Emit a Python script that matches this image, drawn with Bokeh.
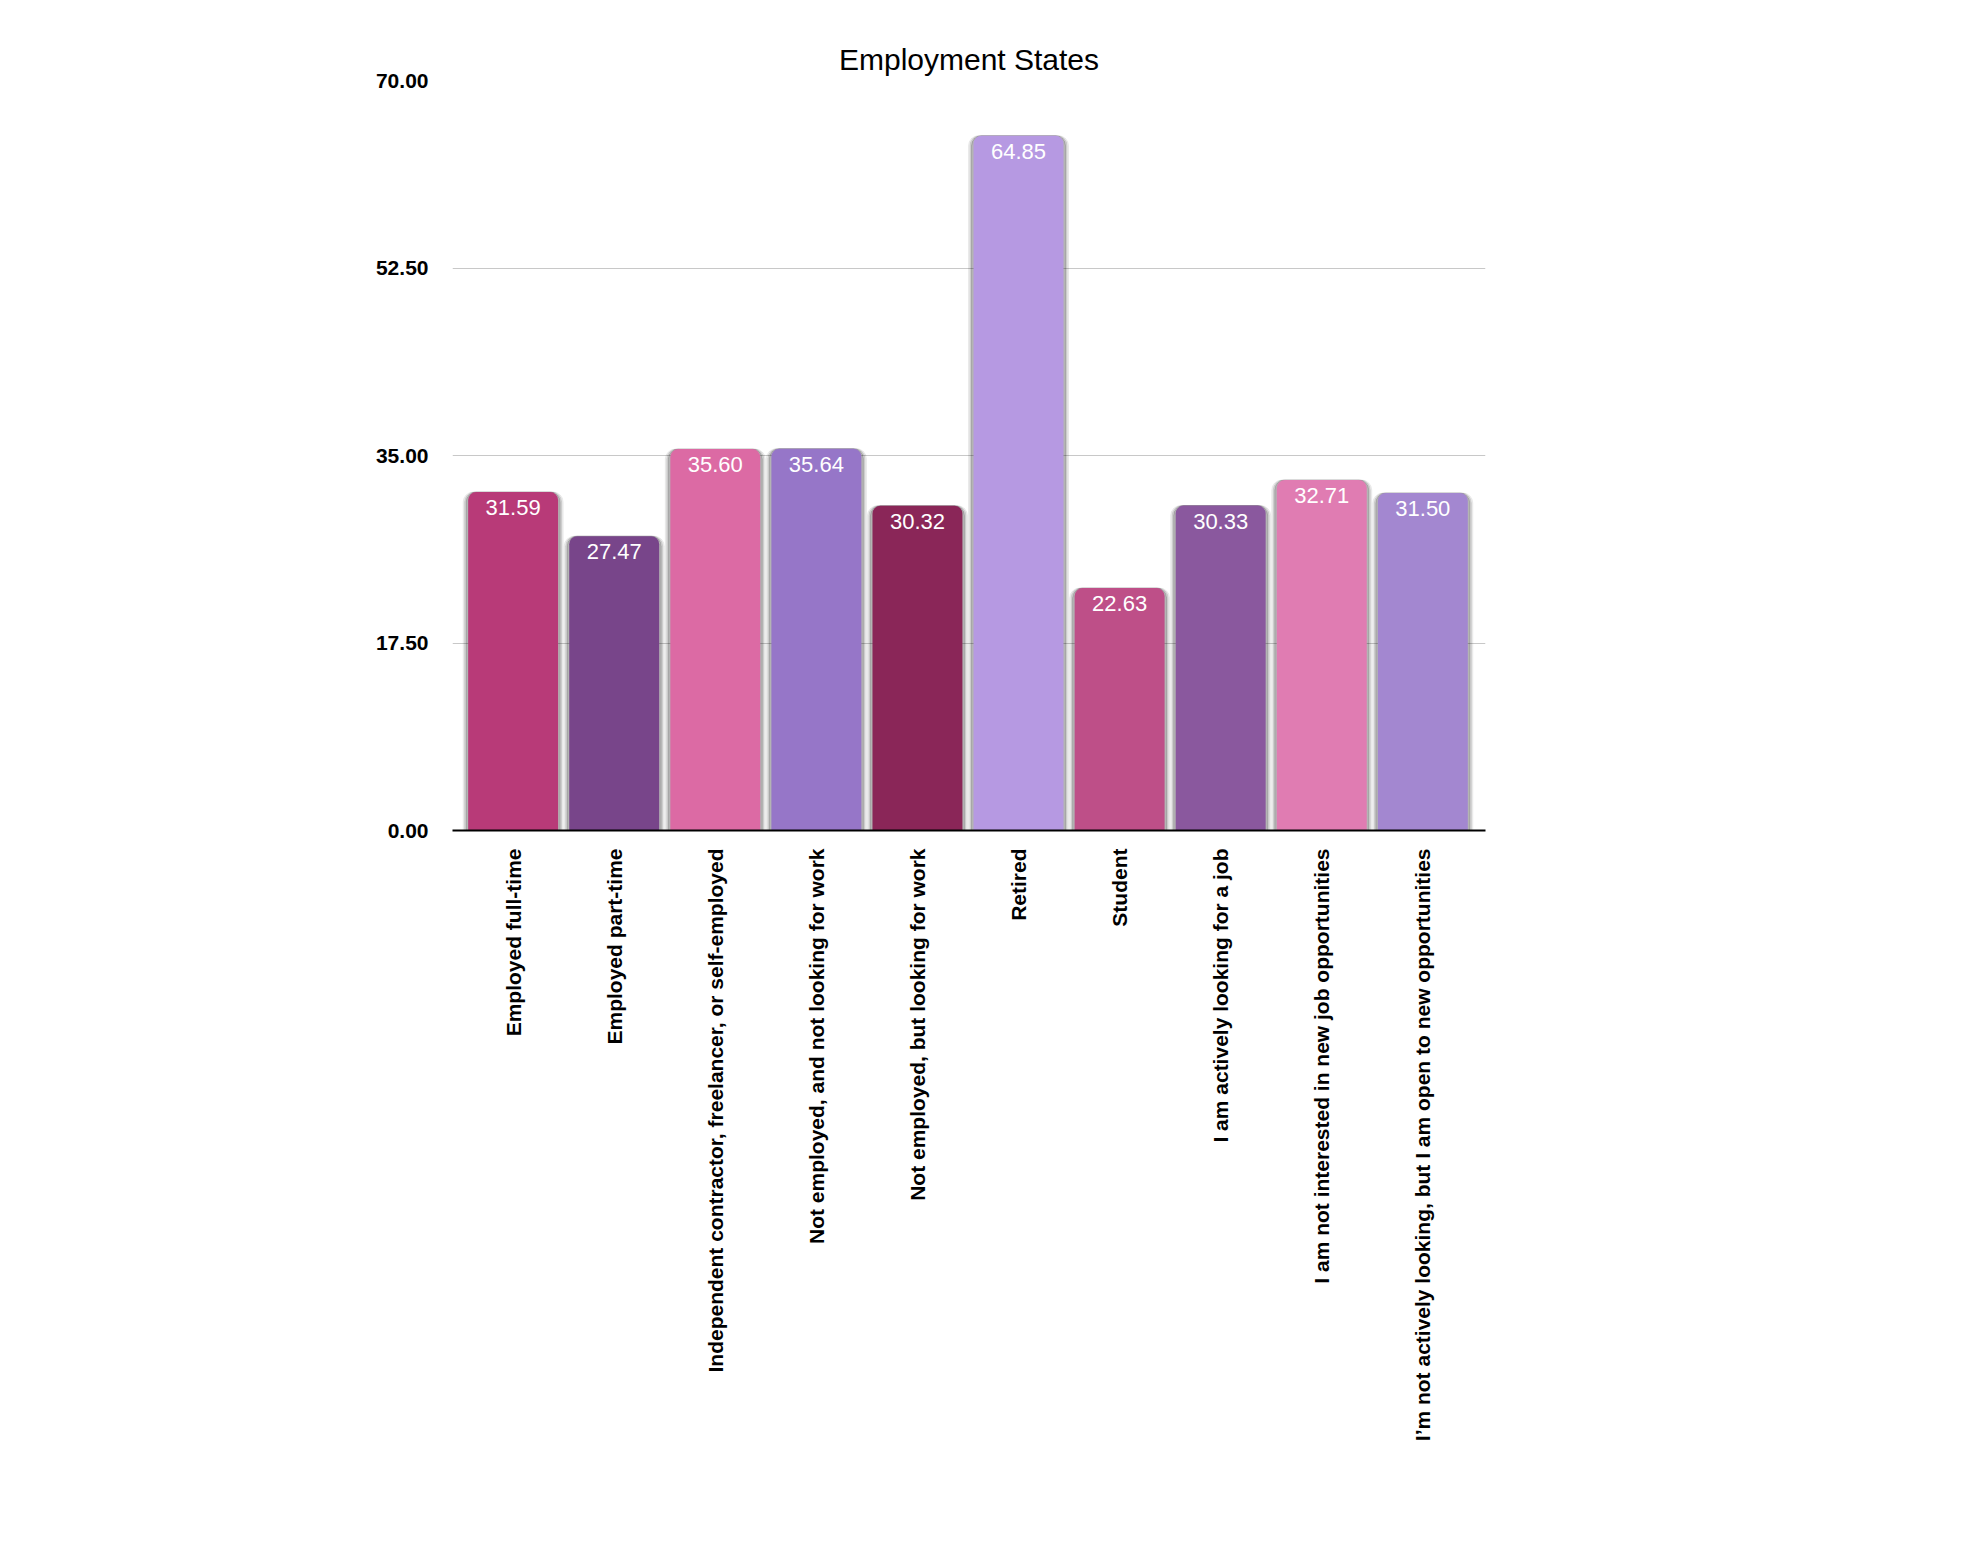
from bokeh.plotting import figure
from bokeh.models import ColumnDataSource, FixedTicker, NumeralTickFormatter, Range1d
from bokeh.core.properties import value
from bokeh.embed import file_html
from bokeh.resources import INLINE

categories = ["Employed full-time", "Employed part-time",
              "Independent contractor, freelancer, or self-employed",
              "Not employed, and not looking for work",
              "Not employed, but looking for work", "Retired", "Student",
              "I am actively looking for a job",
              "I am not interested in new job opportunities",
              "I\u2019m not actively looking, but I am open to new opportunities"]
values = [31.59, 27.47, 35.60, 35.64, 30.32, 64.85, 22.63, 30.33, 32.71, 31.50]
colors = ["#B83A78", "#78458A", "#DC6AA4", "#9676C8", "#8A2658",
          "#B699E2", "#BE4F88", "#8A589E", "#E07CB2", "#A387D0"]

xs = list(range(len(categories)))
src = ColumnDataSource(dict(x=xs, top=values, color=colors,
                            label=["%.2f" % v for v in values]))

p = figure(width=1950, height=1530, output_backend="svg", toolbar_location=None,
           x_range=Range1d(-0.6, 9.62), y_range=Range1d(0, 70),
           min_border_left=452, min_border_right=465, min_border_top=80,
           min_border_bottom=700,
           title="Employment States")
p.title.align = "center"
p.title.text_font = "Liberation Sans"
p.title.text_font_size = "30px"
p.title.text_font_style = "normal"
p.title.text_color = "black"
p.outline_line_color = None

# soft shadow
for w, a in [(0.99, 0.06), (0.96, 0.1), (0.93, 0.16)]:
    p.vbar(x="x", top="top", width=w, source=src, color="black", alpha=a,
           bottom=0, border_radius=(10, 10, 0, 0))
p.vbar(x="x", top="top", width=0.89, source=src, color="color", line_color=None,
       border_radius=(8, 8, 0, 0))

p.text(x="x", y="top", text="label", source=src, text_color="white",
       text_align="center", text_baseline="top", y_offset=8,
       text_font=value("Liberation Sans"), text_font_size="22px")

p.yaxis.ticker = FixedTicker(ticks=[0, 17.5, 35, 52.5, 70])
p.yaxis.formatter = NumeralTickFormatter(format="0.00")
p.yaxis.axis_line_color = None
p.yaxis.major_tick_line_color = None
p.yaxis.minor_tick_line_color = None
p.yaxis.major_label_text_font = "Liberation Sans"
p.yaxis.major_label_text_font_style = "bold"
p.yaxis.major_label_text_font_size = "21px"
p.yaxis.major_label_text_color = "black"
p.yaxis.major_label_standoff = 18

p.xaxis.ticker = FixedTicker(ticks=xs)
p.xaxis.major_label_overrides = {i: c for i, c in enumerate(categories)}
p.xaxis.major_label_orientation = 1.5708
p.xaxis.axis_line_color = "black"
p.xaxis.axis_line_width = 2
p.xaxis.major_tick_line_color = None
p.xaxis.minor_tick_line_color = None
p.xaxis.major_label_text_font = "Liberation Sans"
p.xaxis.major_label_text_font_style = "bold"
p.xaxis.major_label_text_font_size = "21px"
p.xaxis.major_label_text_color = "black"
p.xaxis.major_label_standoff = 12

p.xgrid.grid_line_color = None
p.ygrid.grid_line_color = "#C8C8C8"

open("out.html", "w").write(file_html(p, INLINE))
